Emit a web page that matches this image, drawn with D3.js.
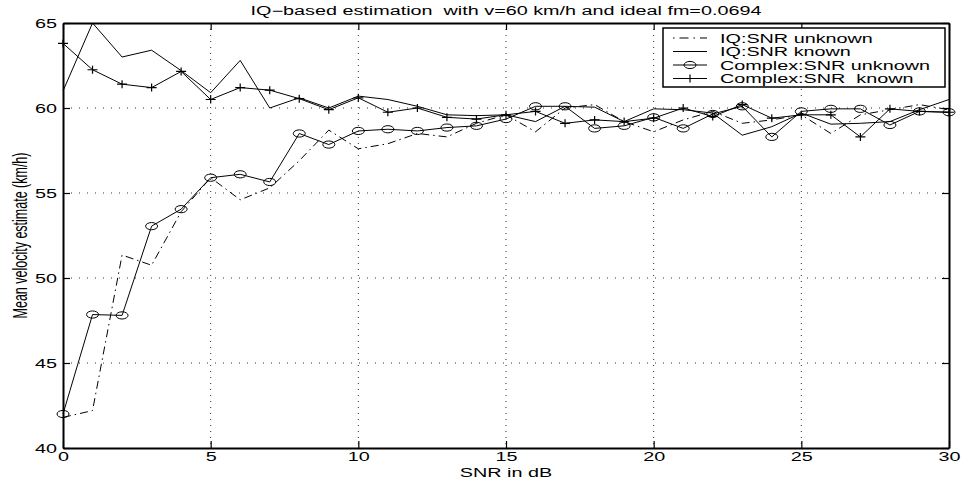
<!DOCTYPE html>
<html>
<head>
<meta charset="utf-8">
<script src="https://cdn.jsdelivr.net/npm/d3@7"></script>
<style>
  body { margin: 0; background: #fff; }
  text { font-family: "Liberation Sans", Arial, sans-serif; fill: #000; }
</style>
</head>
<body>
<div id="chart"></div>
<script>
// SNR axis (dB)
var snr = [0, 1, 2, 3, 4, 5, 6, 7, 8, 9, 10, 11, 12, 13, 14, 15, 16, 17, 18, 19, 20,
           21, 22, 23, 24, 25, 26, 27, 28, 29, 30];

// IQ:SNR unknown (dash-dot)
var iqUnknown = [41.8, 42.2, 51.35, 50.75, 53.9, 55.9, 54.6, 55.3, 56.9, 58.7, 57.6,
                 57.9, 58.5, 58.3, 59.1, 59.6, 58.6, 60.0, 60.2, 59.2, 58.6,
                 59.3, 59.8, 59.1, 59.3, 59.6, 58.5, 59.6, 59.9, 60.2, 59.9];

// IQ:SNR known (solid)
var iqKnown = [61.0, 65.0, 63.0, 63.4, 62.2, 60.9, 62.8, 60.0, 60.6, 60.0, 60.7,
               60.5, 60.1, 59.6, 59.55, 59.6, 59.2, 60.1, 60.05, 59.2, 59.95,
               59.9, 59.7, 58.4, 58.9, 59.7, 59.05, 59.1, 59.2, 59.9, 60.5];

// Complex:SNR unknown (circles)
var complexUnknown = [42.0, 47.85, 47.8, 53.05, 54.05, 55.9, 56.1, 55.65, 58.5, 57.85, 58.65,
                      58.75, 58.65, 58.85, 58.95, 59.35, 60.1, 60.1, 58.8, 58.95, 59.45,
                      58.8, 59.65, 60.1, 58.3, 59.8, 59.95, 59.95, 59.0, 59.8, 59.75];

// Complex:SNR known (plus)
var complexKnown = [63.8, 62.25, 61.4, 61.2, 62.15, 60.5, 61.2, 61.05, 60.55, 59.9, 60.6,
                    59.75, 60.0, 59.45, 59.35, 59.6, 59.8, 59.1, 59.3, 59.2, 59.4,
                    60.0, 59.5, 60.2, 59.4, 59.6, 59.6, 58.3, 59.95, 59.8, 59.75];

var xTicks = [0, 5, 10, 15, 20, 25, 30];
var yTicks = [40, 45, 50, 55, 60, 65];
var legendLabels = ["IQ:SNR unknown", "IQ:SNR known", "Complex:SNR unknown", "Complex:SNR  known"];

var titleText = "IQ\u2212based estimation  with v=60 km/h and ideal fm=0.0694";

// the picture is stretched sideways, so text is too
var sx = 1.65;

var W = 961, H = 485;
var mLeft = 63, mRight = 949, mTop = 23, mBottom = 448;

var svg = d3.select("#chart").append("svg")
    .attr("width", W)
    .attr("height", H);

var xScale = d3.scaleLinear().domain([0, 30]).range([mLeft, mRight]);
var yScale = d3.scaleLinear().domain([40, 65]).range([mBottom, mTop]);

// dotted grid
svg.append("g").selectAll("line")
    .data(xTicks.slice(1, -1))
  .enter().append("line")
    .attr("x1", function(d) { return xScale(d); })
    .attr("x2", function(d) { return xScale(d); })
    .attr("y1", mTop).attr("y2", mBottom)
    .attr("stroke", "#333").attr("stroke-width", 1)
    .attr("stroke-dasharray", "1,5");

svg.append("g").selectAll("line")
    .data(yTicks.slice(1, -1))
  .enter().append("line")
    .attr("y1", function(d) { return yScale(d); })
    .attr("y2", function(d) { return yScale(d); })
    .attr("x1", mLeft).attr("x2", mRight)
    .attr("stroke", "#333").attr("stroke-width", 1)
    .attr("stroke-dasharray", "1,7");

// axes, ticks pointing inward
var xAxis = svg.append("g")
    .attr("transform", "translate(0," + mBottom + ")")
    .call(d3.axisBottom(xScale).tickValues(xTicks).tickSizeInner(-7).tickSizeOuter(0).tickPadding(6));
var yAxis = svg.append("g")
    .attr("transform", "translate(" + mLeft + ",0)")
    .call(d3.axisLeft(yScale).tickValues(yTicks).tickSizeInner(-7).tickSizeOuter(0).tickPadding(6));
svg.append("g")
    .attr("transform", "translate(0," + mTop + ")")
    .call(d3.axisTop(xScale).tickValues(xTicks).tickSizeInner(-7).tickSizeOuter(0).tickFormat(""));
svg.append("g")
    .attr("transform", "translate(" + mRight + ",0)")
    .call(d3.axisRight(yScale).tickValues(yTicks).tickSizeInner(-7).tickSizeOuter(0).tickFormat(""));

svg.selectAll(".domain").attr("stroke", "#000").attr("stroke-width", 2);
svg.selectAll(".tick line").attr("stroke", "#000").attr("stroke-width", 1.2);

xAxis.selectAll("text")
    .attr("font-size", 12)
    .attr("y", 4)
    .attr("dy", "0.71em")
    .attr("transform", "scale(" + sx + ",1)");
yAxis.selectAll("text")
    .attr("font-size", 12)
    .attr("x", -6 / sx)
    .attr("dy", "0.35em")
    .attr("transform", "scale(" + sx + ",1)");
svg.selectAll(".tick text").style("font-family", "'Liberation Sans', Arial, sans-serif");

// lines
var line = d3.line()
    .x(function(d, i) { return xScale(snr[i]); })
    .y(function(d) { return yScale(d); });

svg.append("path").datum(iqUnknown)
    .attr("d", line).attr("fill", "none")
    .attr("stroke", "#000").attr("stroke-width", 1)
    .attr("stroke-dasharray", "8,4,1.5,4");

svg.append("path").datum(iqKnown)
    .attr("d", line).attr("fill", "none")
    .attr("stroke", "#000").attr("stroke-width", 1);

svg.append("path").datum(complexUnknown)
    .attr("d", line).attr("fill", "none")
    .attr("stroke", "#000").attr("stroke-width", 1);

svg.append("path").datum(complexKnown)
    .attr("d", line).attr("fill", "none")
    .attr("stroke", "#000").attr("stroke-width", 1);

// markers
function circleMark(g, x, y) {
  g.append("ellipse")
    .attr("cx", x).attr("cy", y)
    .attr("rx", 6).attr("ry", 3.6)
    .attr("fill", "none").attr("stroke", "#000").attr("stroke-width", 1);
}
function plusMark(g, x, y) {
  g.append("path")
    .attr("d", "M" + (x - 5) + "," + y + "H" + (x + 5) + "M" + x + "," + (y - 4) + "V" + (y + 4))
    .attr("stroke", "#000").attr("stroke-width", 1.2);
}

var markG = svg.append("g");
complexUnknown.forEach(function(d, i) { circleMark(markG, xScale(snr[i]), yScale(d)); });
complexKnown.forEach(function(d, i) { plusMark(markG, xScale(snr[i]), yScale(d)); });

// legend
var lg = svg.append("g");
lg.append("rect")
    .attr("x", 663).attr("y", 28)
    .attr("width", 282).attr("height", 59)
    .attr("fill", "#fff").attr("stroke", "#000").attr("stroke-width", 1.5);

var styles = ["dashdot", "solid", "circle", "plus"];
legendLabels.forEach(function(lab, i) {
  var yy = 38 + i * 13.5;
  var l = lg.append("line")
      .attr("x1", 673).attr("x2", 707)
      .attr("y1", yy).attr("y2", yy)
      .attr("stroke", "#000").attr("stroke-width", 1);
  if (styles[i] == "dashdot") l.attr("stroke-dasharray", "1.5,5,9,5");
  if (styles[i] == "circle") circleMark(lg, 690, yy);
  if (styles[i] == "plus") plusMark(lg, 690, yy);
  lg.append("text")
      .attr("transform", "translate(720," + (yy + 4.5) + ") scale(" + sx + ",1)")
      .attr("font-size", 12)
      .style("white-space", "pre")
      .text(lab);
});

// title and labels
svg.append("text")
    .attr("transform", "translate(" + ((mLeft + mRight) / 2) + ",15) scale(" + sx + ",1)")
    .attr("text-anchor", "middle")
    .attr("font-size", 12)
    .style("white-space", "pre")
    .text(titleText);

svg.append("text")
    .attr("transform", "translate(" + ((mLeft + mRight) / 2) + ",477) scale(" + sx + ",1)")
    .attr("text-anchor", "middle")
    .attr("font-size", 12)
    .text("SNR in dB");

svg.append("text")
    .attr("transform", "translate(27," + ((mTop + mBottom) / 2) + ") scale(" + sx + ",1) rotate(-90)")
    .attr("text-anchor", "middle")
    .attr("font-size", 12.5)
    .text("Mean velocity estimate (km/h)");
</script>
</body>
</html>
